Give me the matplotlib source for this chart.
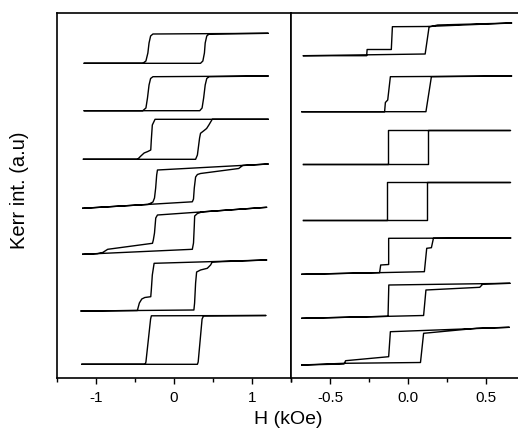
import numpy as np
import matplotlib
matplotlib.use("Agg")
from matplotlib import pyplot as plt
from matplotlib.ticker import MultipleLocator

plt.rcParams['font.family'] = ['Liberation Sans', 'DejaVu Sans']

# Laços de histerese Kerr (H em kOe, intensidade em u.a. ja deslocada)
# painel esquerdo, de cima para baixo
l1_h = [-1.15, 0.34, 0.37, 0.39, 0.40, 0.42, 0.45, 1.21, -0.27, -0.30, -0.32, -0.335, -0.36, -0.40, -1.15]
l1_k = [31.47, 31.47, 31.7, 32.5, 33.5, 34.2, 34.4, 34.47, 34.4, 34.2, 33.5, 32.5, 31.7, 31.47, 31.47]
l2_h = [-1.15, 0.33, 0.36, 0.38, 0.40, 0.42, 0.45, 1.21, -0.27, -0.30, -0.32, -0.34, -0.36, -0.40, -1.15]
l2_k = [26.73, 26.73, 27.0, 28.0, 29.3, 29.95, 30.13, 30.2, 30.13, 29.95, 29.3, 28.0, 27.0, 26.73, 26.73]
l3_h = [-1.16, 0.277, 0.30, 0.328, 0.34, 0.383, 0.418, 0.447, 0.49, 1.21,
        -0.243, -0.278, -0.291, -0.298, -0.336, -0.383, -0.425, -0.467, -1.16]
l3_k = [21.87, 21.87, 22.3, 24.0, 24.47, 24.73, 24.95, 25.3, 25.87, 25.87,
        25.87, 25.3, 23.8, 22.8, 22.65, 22.5, 22.2, 21.87, 21.87]
l4_h = [-1.17, 0.235, 0.25, 0.26, 0.277, 0.30, 0.34, 0.83, 0.88, 1.21,
        -0.212, -0.222, -0.235, -0.25, -0.27, -0.33, -1.17]
l4_k = [16.97, 17.62, 17.9, 19.0, 20.1, 20.35, 20.45, 20.95, 21.25, 21.4,
        20.8, 20.3, 19.0, 18.0, 17.6, 17.36, 16.97]
l5_h = [-1.17, 0.235, 0.25, 0.26, 0.265, 0.30, 0.36, 1.19,
        -0.212, -0.234, -0.25, -0.265, -0.276, -0.85, -0.914, -0.98, -1.17]
l5_k = [12.37, 12.87, 13.5, 15.2, 16.2, 16.45, 16.61, 17.07,
        16.3, 16.0, 14.5, 13.8, 13.47, 12.87, 12.55, 12.44, 12.37]
l6_h = [-1.19, 0.255, 0.264, 0.277, 0.29, 0.34, 0.427, 0.469, 0.49, 1.19,
        -0.255, -0.278, -0.291, -0.298, -0.374, -0.413, -0.444, -0.47, -1.19]
l6_k = [6.7, 6.8, 7.5, 9.5, 10.6, 10.8, 10.97, 11.3, 11.6, 11.8,
        11.47, 10.3, 8.8, 8.13, 8.05, 7.9, 7.5, 6.75, 6.7]
l7_h = [-1.18, 0.30, 0.31, 0.36, 0.38, 1.18, -0.29, -0.30, -0.36, -0.37, -1.18]
l7_k = [1.37, 1.37, 1.6, 5.9, 6.22, 6.25, 6.22, 5.9, 1.6, 1.37, 1.37]

# painel direito, de cima para baixo
r1_h = [-0.67, 0.11, 0.135, 0.19, 0.665, 0.12, -0.10, -0.107, -0.262, -0.265, -0.67]
r1_k = [32.23, 32.4, 35.1, 35.3, 35.5, 35.15, 35.13, 32.85, 32.85, 32.23, 32.23]
r2_h = [-0.68, 0.115, 0.15, 0.665, -0.113, -0.13, -0.145, -0.15, -0.68]
r2_k = [26.63, 26.63, 30.13, 30.2, 30.13, 27.8, 27.55, 26.63, 26.63]
r3_h = [-0.675, 0.13, 0.13, 0.655, -0.126, -0.126, -0.675]
r3_k = [21.37, 21.37, 24.83, 24.83, 24.83, 21.37, 21.37]
r4_h = [-0.675, 0.124, 0.124, 0.655, -0.133, -0.133, -0.675]
r4_k = [15.85, 15.85, 19.57, 19.57, 19.57, 15.85, 15.85]
r5_h = [-0.68, 0.105, 0.12, 0.15, 0.163, 0.66, -0.124, -0.124, -0.175, -0.182, -0.68]
r5_k = [10.37, 10.63, 12.97, 13.03, 13.97, 14.0, 13.97, 11.35, 11.3, 10.54, 10.37]
r6_h = [-0.68, 0.10, 0.115, 0.46, 0.48, 0.655, -0.123, -0.128, -0.68]
r6_k = [5.97, 6.25, 8.8, 9.07, 9.4, 9.47, 9.3, 6.17, 5.97]
r7_h = [-0.68, -0.41, 0.08, 0.10, 0.44, 0.65, -0.113, -0.124, -0.40, -0.41, -0.68]
r7_k = [1.3, 1.47, 1.55, 4.47, 4.97, 5.07, 4.63, 2.13, 1.73, 1.4, 1.3]

left_loops = [(l1_h, l1_k), (l2_h, l2_k), (l3_h, l3_k), (l4_h, l4_k),
              (l5_h, l5_k), (l6_h, l6_k), (l7_h, l7_k)]
right_loops = [(r1_h, r1_k), (r2_h, r2_k), (r3_h, r3_k), (r4_h, r4_k),
               (r5_h, r5_k), (r6_h, r6_k), (r7_h, r7_k)]

W, H = 518, 430
fig = plt.figure(figsize=(W / 100, H / 100), dpi=100)

bot = 1 - 378 / H
hgt = (378 - 13) / H
ax1 = fig.add_axes([57 / W, bot, (291 - 57) / W, hgt])
ax2 = fig.add_axes([291 / W, bot, (525 - 291) / W, hgt])

for h, k in left_loops:
    ax1.plot(h, k, color="k", lw=1.0)
for h, k in right_loops:
    ax2.plot(h, k, color="k", lw=1.0)

ax1.set_xlim(-1.5, 1.5)
ax2.set_xlim(-0.75, 0.75)
ax1.xaxis.set_minor_locator(MultipleLocator(0.5))
ax2.xaxis.set_minor_locator(MultipleLocator(0.25))

for ax in (ax1, ax2):
    ax.set_ylim(0, 36.5)
    ax.set_yticks([])
    ax.tick_params(axis="x", which="major", direction="out", length=4, width=1, labelsize=11, pad=5)
    ax.tick_params(axis="x", which="minor", direction="out", length=3, width=1)
    for s in ax.spines.values():
        s.set_linewidth(1.2)

ax1.set_xticks([-1, 0, 1])
ax1.set_xticklabels(["-1", "0", "1"])
ax2.set_xticks([-0.5, 0.0, 0.5])
ax2.set_xticklabels(["-0.5", "0.0", "0.5"])
ax2.spines["right"].set_visible(False)

fig.text(20 / W, 1 - 190 / H, "Kerr int. (a.u)", rotation=90, ha="center", va="center", fontsize=14.5)
fig.text(288 / W, 1 - 419 / H, "H (kOe)", ha="center", va="center", fontsize=14)

fig.savefig("out.png", dpi=100)
